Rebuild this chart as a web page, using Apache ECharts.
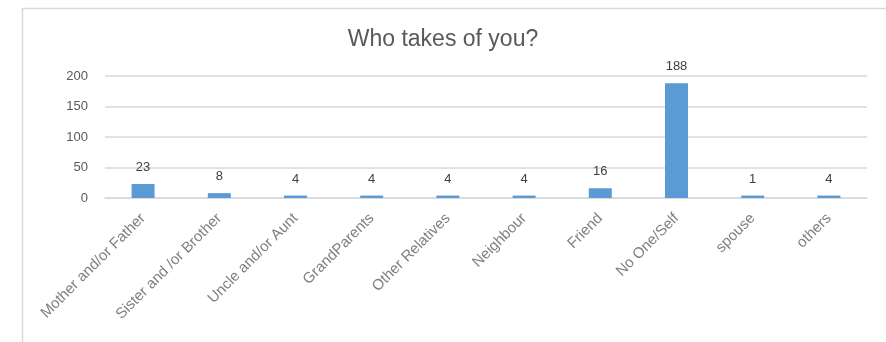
<!DOCTYPE html>
<html><head><meta charset="utf-8">
<script src="https://cdn.jsdelivr.net/npm/echarts@6/dist/echarts.min.js"></script>
<style>html,body{margin:0;padding:0;background:#fff}#c{width:886px;height:342px}</style>
</head><body><div id="c"></div>
<script>
const categories = ["Mother and/or Father","Sister and /or Brother","Uncle and/or Aunt","GrandParents","Other Relatives","Neighbour","Friend","No One/Self","spouse","others"];
const values = [23, 8, 4, 4, 4, 4, 16, 188, 4, 4];
const labels = ["23","8","4","4","4","4","16","188","1","4"];
const yTicks = [0, 50, 100, 150, 200];

const chart = echarts.init(document.getElementById('c'), null, {renderer:'canvas'});
chart.setOption({
  animation:false,
  backgroundColor:'#fff',
  graphic:[{type:'rect', left:20, top:6, shape:{width:900, height:400}, style:{fill:'none', stroke:'#d9d9d9', lineWidth:1.5}, silent:true}],
  title:{text:'Who takes of you?', left:'center', top:23, textStyle:{fontFamily:'Liberation Sans', fontSize:23, fontWeight:'normal', color:'#595959'}},
  grid:{left:105, right:19, top:76, bottom:144, containLabel:false},
  xAxis:{type:'category', data:categories,
    axisLine:{lineStyle:{color:'#d9d9d9', width:1.5}}, axisTick:{show:false},
    axisLabel:{rotate:45, interval:0, margin:18, fontFamily:'Liberation Sans', fontSize:15, color:'#7f7f7f'}},
  yAxis:{type:'value', min:yTicks[0], max:yTicks[yTicks.length-1], interval:50,
    axisLine:{show:false}, axisTick:{show:false},
    splitLine:{lineStyle:{color:'#d9d9d9', width:1.5}},
    axisLabel:{margin:17, fontFamily:'Liberation Sans', fontSize:13, color:'#595959'}},
  series:[{type:'bar', data:values, barWidth:23, itemStyle:{color:'#5b9bd5'},
    label:{show:true, position:'top', distance:10, fontFamily:'Liberation Sans', fontSize:13, color:'#404040',
      formatter:p=>labels[p.dataIndex]}}]
});
</script></body></html>
